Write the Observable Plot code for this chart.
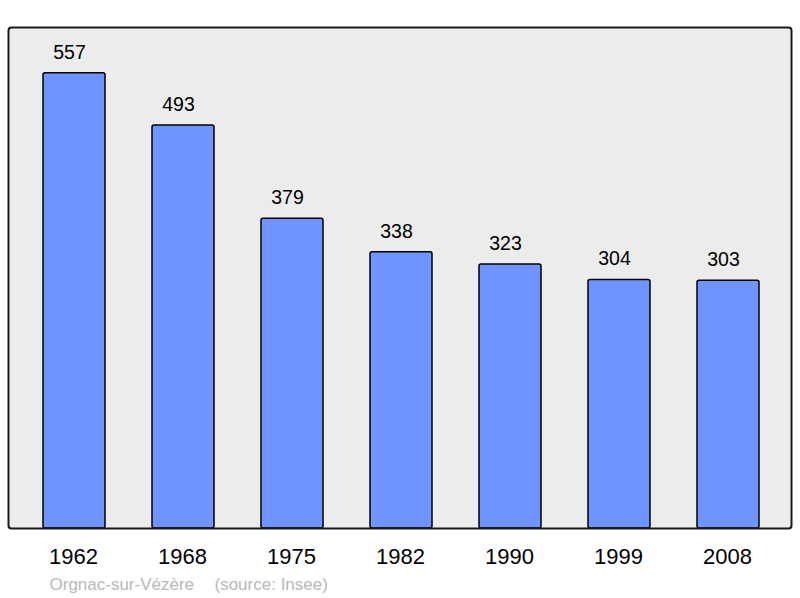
<!DOCTYPE html>
<html>
<head>
<meta charset="utf-8">
<script src="https://cdn.jsdelivr.net/npm/d3@7"></script>
<script src="https://cdn.jsdelivr.net/npm/@observablehq/plot@0.6"></script>
<style>
  html, body { margin: 0; padding: 0; background: #fff; }
  svg { display: block; font-family: "Liberation Sans", Arial, sans-serif; }
</style>
</head>
<body>
<div id="chart"></div>
<script>
const years = ["1962", "1968", "1975", "1982", "1990", "1999", "2008"];
const population = [557, 493, 379, 338, 323, 304, 303];
const place = "Orgnac-sur-Vézère";
const source = "(source: Insee)";

const data = years.map((y, i) => ({year: y, value: population[i]}));

const chart = Plot.plot({
  width: 800,
  height: 598,
  marginLeft: 8,
  marginRight: 9,
  marginTop: 27,
  marginBottom: 70,
  style: {fontFamily: "'Liberation Sans', Arial, sans-serif", background: "white"},
  x: {type: "band", domain: years, range: [41, 760], paddingInner: 0.433, paddingOuter: 0, axis: null},
  y: {domain: [0, 613], axis: null},
  marks: [
    Plot.frame({fill: "#ececec", stroke: "none"}),
    Plot.barY(data, {x: "year", y: "value", fill: "#7094ff", stroke: "black", strokeWidth: 1.5, rx: 2}),
    Plot.frame({stroke: "#1a1a1a", strokeWidth: 2, rx: 3}),
    Plot.text(data, {x: "year", y: "value", text: d => String(d.value), dy: -21, dx: -5, fontSize: 19.5, fill: "black"}),
    Plot.text(data, {x: "year", text: "year", frameAnchor: "bottom", dy: 35, dx: -1, fontSize: 22, fill: "black"}),
    Plot.text([place], {text: d => d, frameAnchor: "bottom-left", textAnchor: "start", dx: 41, dy: 61, fontSize: 17, fill: "#b8b8b8"}),
    Plot.text([source], {text: d => d, frameAnchor: "bottom-left", textAnchor: "start", dx: 206, dy: 61, fontSize: 17, fill: "#b8b8b8"})
  ]
});
document.getElementById("chart").appendChild(chart);
</script>
</body>
</html>
